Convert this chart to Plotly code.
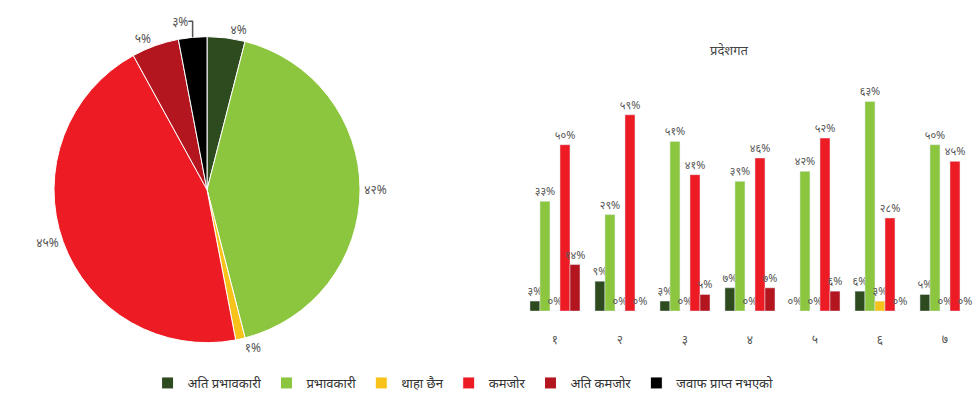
import plotly.graph_objects as go

# categories and colours
labels = ['अति प्रभावकारी', 'प्रभावकारी', 'थाहा छैन', 'कमजोर', 'अति कमजोर', 'जवाफ प्राप्त नभएको']
colors = ['#2e4a1f', '#8cc63f', '#f7c31a', '#ed1c24', '#b3161f', '#000000']

# overall (pie)
overall = [4, 42, 1, 45, 5, 3]

# by province (bars)
provinces = ['१', '२', '३', '४', '५', '६', '७']
ati_prabhavkari = [3, 9, 3, 7, 0, 6, 5]
prabhavkari = [33, 29, 51, 39, 42, 63, 50]
thaha_chhaina = [0, 0, 0, 0, 0, 3, 0]
kamjor = [50, 59, 41, 46, 52, 28, 45]
ati_kamjor = [14, 0, 5, 7, 6, 0, 0]

NP = str.maketrans('0123456789', '०१२३४५६७८९')


def np_pct(v):
    return (str(v) + '%').translate(NP)


FONT = 'Noto Sans, DejaVu Sans, sans-serif'

fig = go.Figure()

fig.add_trace(go.Pie(
    labels=labels, values=overall, sort=False, direction='clockwise', rotation=0,
    marker=dict(colors=colors, line=dict(color='white', width=1)),
    text=[np_pct(v) for v in overall], textinfo='text', textposition='outside',
    textfont=dict(size=12, color='#555555'),
    domain=dict(x=[0.0453, 0.3642], y=[0.1359, 0.9308]),
    showlegend=True, hoverinfo='label+percent',
))

series = [ati_prabhavkari, prabhavkari, thaha_chhaina, kamjor, ati_kamjor]
for name, vals, col in zip(labels[:5], series, colors[:5]):
    fig.add_trace(go.Bar(
        x=provinces, y=vals, name=name, marker_color=col,
        text=[np_pct(v) for v in vals], textposition='outside',
        textfont=dict(size=11, color='#555555'), constraintext='none',
        cliponaxis=False, showlegend=False,
    ))

# the page body adds an 8px offset, so the figure is 8px smaller
fig.update_layout(
    width=972, height=390,
    margin=dict(l=0, r=0, t=0, b=0),
    paper_bgcolor='white', plot_bgcolor='white',
    font=dict(family=FONT, color='#404040'),
    barmode='group', bargap=0.23, bargroupgap=0,
    xaxis=dict(domain=[0.5293, 0.9974], showgrid=False, showline=False, zeroline=False,
               ticks='outside', ticklen=17, tickcolor='white',
               tickfont=dict(size=12, color='#555555')),
    yaxis=dict(domain=[0.2179, 0.823], range=[0, 70], visible=False),
    legend=dict(orientation='h', x=0.1436, y=0.031, yanchor='middle', xanchor='left',
                itemwidth=30, font=dict(size=13, color='#333333'), traceorder='normal'),
    annotations=[dict(text='प्रदेशगत', x=0.7634, y=0.897, xref='paper', yref='paper',
                      yanchor='middle', showarrow=False, font=dict(size=13, color='#444444'))],
)

fig.write_html('out.html')
